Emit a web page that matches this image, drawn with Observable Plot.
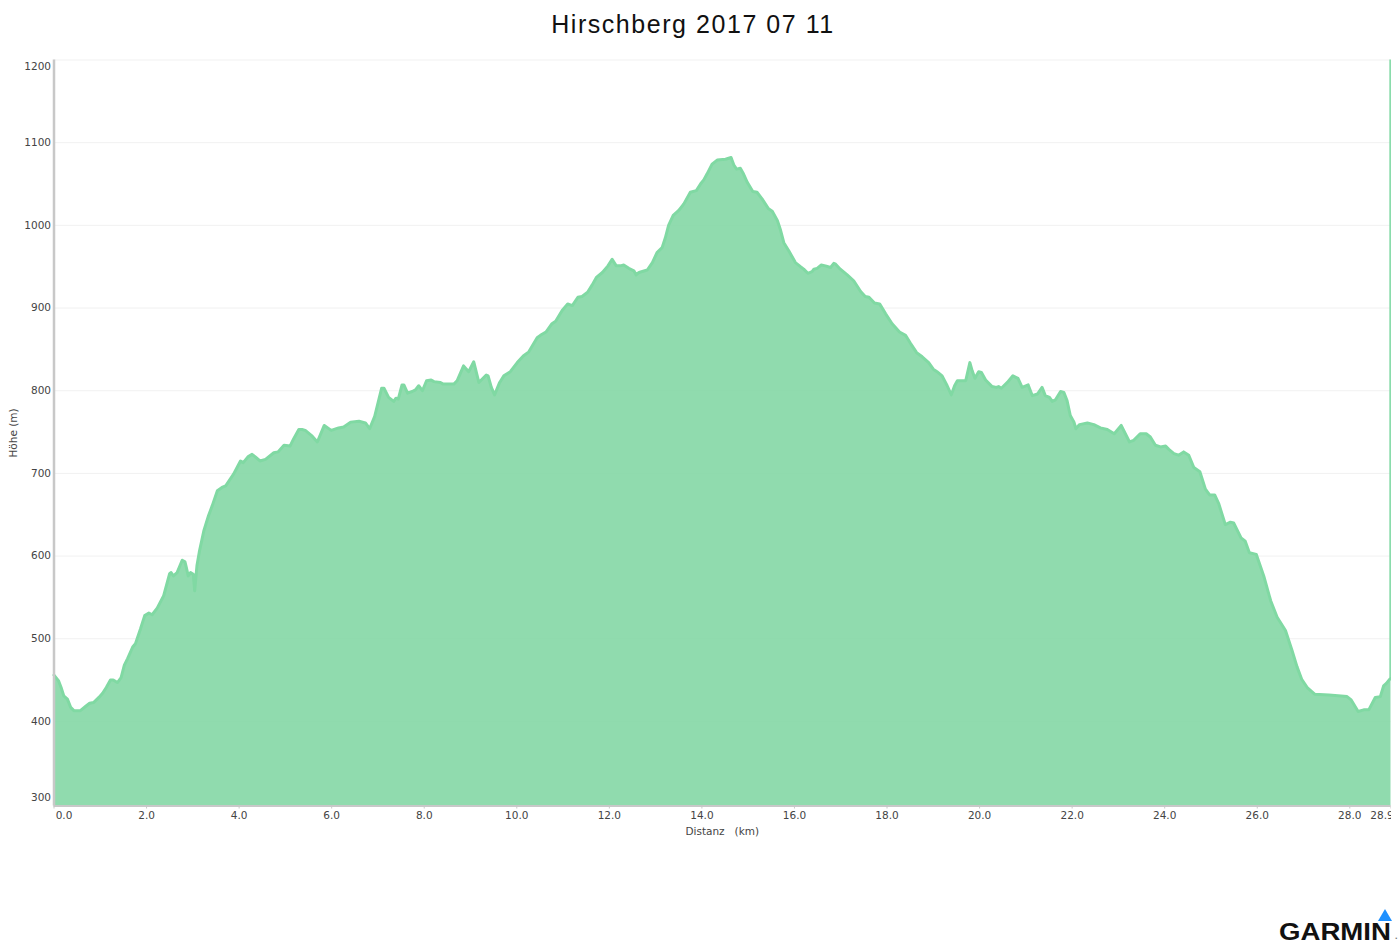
<!DOCTYPE html>
<html lang="de">
<head>
<meta charset="utf-8">
<title>Hirschberg 2017 07 11</title>
<script src="https://cdn.jsdelivr.net/npm/d3@7"></script>
<script src="https://cdn.jsdelivr.net/npm/@observablehq/plot@0.6"></script>
<style>
  html, body { margin: 0; padding: 0; background: #fff; overflow: hidden; }
  body { position: relative; width: 1400px; height: 942px; }
  #title { position: absolute; left: 0; top: 8px; width: 1386px; text-align: center;
    font: 25px/32px "Liberation Sans", Arial, sans-serif; letter-spacing: 1.55px; color: #111; }
  #chart { position: absolute; left: 0; top: 46px; }
  #chart svg { display: block; overflow: hidden; }
  #logo { position: absolute; left: 1279px; top: 924px; font: 700 23px/17px "Liberation Sans", Arial, sans-serif;
    color: #111; transform: scaleX(1.2); transform-origin: 0 0; white-space: nowrap; }
  #dot { position: absolute; left: 1395px; top: 931px; font: 700 9px/10px "Liberation Sans", Arial, sans-serif; color: #777; }
  #mark { position: absolute; left: 1378px; top: 909px; width: 14px; height: 12px; background: #1e90ff;
    clip-path: polygon(50% 0, 100% 100%, 0 100%); }
</style>
</head>
<body>
<div id="title">Hirschberg 2017 07 11</div>
<div id="chart"></div>
<div id="mark"></div>
<div id="logo">GARMIN</div>
<div id="dot">.</div>
<script>
const distanceKm = [0,.10,.16,.21,.29,.36,.43,.57,.68,.77,.86,.97,1.05,1.13,1.22,1.28,1.37,1.45,1.52,1.59,1.70,1.76,1.87,1.96,2.05,2.12,2.23,2.37,2.50,2.53,2.58,2.66,2.77,2.83,2.86,2.90,2.95,3.01,3.04,3.09,3.14,3.24,3.34,3.42,3.53,3.63,3.71,3.88,4.03,4.09,4.19,4.28,4.35,4.45,4.57,4.75,4.84,4.97,5.10,5.18,5.29,5.36,5.43,5.58,5.69,5.84,5.99,6.15,6.26,6.41,6.59,6.73,6.82,6.93,7.08,7.13,7.23,7.34,7.39,7.44,7.52,7.56,7.64,7.74,7.81,7.88,7.96,8.05,8.15,8.21,8.35,8.41,8.64,8.71,8.85,8.96,9.07,9.18,9.34,9.38,9.45,9.52,9.63,9.72,9.86,10.01,10.14,10.26,10.44,10.51,10.63,10.76,10.84,10.98,11.10,11.20,11.32,11.41,11.53,11.63,11.72,11.85,11.97,12.06,12.15,12.24,12.31,12.42,12.53,12.58,12.64,12.82,12.93,13.03,13.14,13.21,13.28,13.38,13.50,13.61,13.75,13.88,13.97,14.04,14.11,14.22,14.33,14.51,14.63,14.69,14.75,14.83,14.90,14.98,15.10,15.19,15.30,15.44,15.52,15.63,15.70,15.77,15.88,16.02,16.13,16.20,16.29,16.38,16.42,16.49,16.58,16.67,16.78,16.85,16.89,16.99,17.14,17.28,17.35,17.43,17.53,17.61,17.73,17.84,17.97,18.11,18.27,18.40,18.51,18.64,18.76,18.90,19.00,19.08,19.19,19.30,19.39,19.46,19.52,19.70,19.79,19.84,19.90,19.98,20.04,20.13,20.27,20.36,20.41,20.47,20.60,20.72,20.83,20.92,21.05,21.14,21.25,21.35,21.42,21.51,21.57,21.64,21.75,21.82,21.89,21.96,22.04,22.08,22.16,22.33,22.47,22.61,22.76,22.91,23.06,23.15,23.24,23.33,23.47,23.60,23.69,23.80,23.91,24.02,24.09,24.20,24.30,24.41,24.52,24.63,24.76,24.88,24.97,25.08,25.17,25.31,25.42,25.49,25.65,25.74,25.83,25.98,26.14,26.29,26.43,26.61,26.75,26.86,26.96,27.08,27.24,27.55,27.94,28.03,28.18,28.30,28.41,28.55,28.66,28.73,28.79,28.89];
const elevationM = [456,449,440,431,427,417,413,413,418,422,423,429,434,441,450,450,447,453,468,476,490,494,512,528,531,529,537,552,579,580,576,580,595,593,586,576,580,578,558,589,605,631,649,661,679,683,685,699,715,713,720,723,720,715,717,725,726,734,733,742,753,753,752,745,738,758,752,755,756,762,763,761,754,769,803,803,792,787,791,790,807,807,797,799,801,806,800,812,813,811,810,808,808,812,830,823,835,810,819,818,804,795,810,818,823,834,842,847,864,867,871,881,884,897,905,903,913,914,919,928,937,943,951,959,951,951,952,948,945,940,943,946,955,967,973,985,1000,1012,1018,1026,1040,1042,1050,1055,1062,1074,1079,1080,1082,1073,1068,1069,1062,1052,1041,1040,1032,1020,1017,1006,994,979,969,955,950,947,942,944,947,948,952,951,949,954,953,947,940,933,927,920,914,913,906,905,893,881,871,867,857,846,841,834,826,823,818,806,795,806,812,812,834,824,815,823,822,813,805,804,805,803,810,818,815,804,807,794,796,804,794,792,787,789,799,798,788,770,762,754,759,761,759,755,753,748,758,748,738,740,748,748,744,734,732,733,729,724,722,726,722,707,702,681,674,674,663,638,641,640,622,618,604,602,576,546,526,510,486,466,451,441,433,432,430,426,412,414,414,429,430,443,446,453];
const xTicks = [0,2,4,6,8,10,12,14,16,18,20,22,24,26,28,28.89];
const yTicks = [300,400,500,600,700,800,900,1000,1100,1200];

const profile = distanceKm.map((km, i) => ({km, m: elevationM[i]}));
const yBase = 297.7;
const green = "#80d9a3";
const ink = "#444";

const chart = Plot.plot({
  width: 1391,
  height: 800,
  marginTop: 13.5,
  marginRight: 0.5,
  marginBottom: 40.5,
  marginLeft: 53.5,
  style: {fontFamily: '"DejaVu Sans", Verdana, sans-serif', fontSize: "10.5px", background: "transparent"},
  x: {domain: [0, 28.89], label: null},
  y: {domain: [yBase, 1200], label: null},
  marks: [
    Plot.ruleY(yTicks.slice(1), {stroke: "#f1f1f1", strokeWidth: 1}),
    Plot.areaY(profile, {x: "km", y1: yBase, y2: "m", fill: "#84d7a5", fillOpacity: 0.9}),
    Plot.lineY(profile, {x: "km", y: "m", stroke: green, strokeWidth: 3, strokeLinejoin: "round"}),
    Plot.ruleX([28.875], {y1: 453, y2: 1200, stroke: "#8adcab", strokeWidth: 2}),
    Plot.ruleX([0], {stroke: "#c8c8c8", strokeWidth: 2.5}),
    Plot.ruleY([yBase], {stroke: "#c8c8c8", strokeWidth: 2}),
    Plot.axisX({
      ticks: xTicks, tickSize: 3, tickPadding: 3, stroke: "#c8c8c8", fill: ink, label: null,
      tickFormat: d => (d === 0 || d === 28.89) ? "" : d.toFixed(1)
    }),
    Plot.text(["0.0"], {x: 0, y: yBase, dx: 10, dy: 10, lineAnchor: "middle", fill: ink}),
    Plot.text(["28.9"], {x: 28.89, y: yBase, dx: -9, dy: 10, lineAnchor: "middle", fill: ink}),
    Plot.axisY({
      ticks: yTicks, tickSize: 0, tickPadding: 3, fill: ink, label: null,
      tickFormat: d => (d === 300 || d === 1200) ? "" : String(d)
    }),
    Plot.text(["1200"], {x: 0, y: 1200, dx: -3, dy: 7, textAnchor: "end", fill: ink}),
    Plot.text(["300"], {x: 0, y: 300, dx: -3, dy: -6, textAnchor: "end", fill: ink}),
    Plot.text(["Höhe (m)"], {frameAnchor: "left", dx: -40.5, rotate: -90, textAnchor: "middle", fill: ink, fontSize: 10.5}),
    Plot.text(["Distanz   (km)"], {x: 14.44, y: yBase, dy: 26, fill: ink, fontSize: 10.5, lineAnchor: "middle", style: {whiteSpace: "pre"}})
  ]
});
document.getElementById("chart").appendChild(chart);
</script>
</body>
</html>
